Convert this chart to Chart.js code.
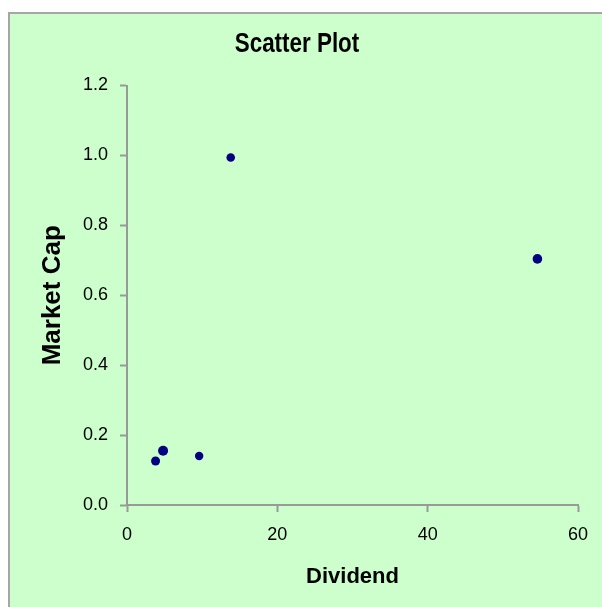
<!DOCTYPE html>
<html>
<head>
<meta charset="utf-8">
<script src="https://cdn.jsdelivr.net/npm/chart.js@4"></script>
<style>
  html, body { margin: 0; padding: 0; background: #ffffff; overflow: hidden; width: 602px; height: 607px; }
  #frame { position: absolute; left: 8px; top: 12px; width: 594px; height: 595px; box-sizing: border-box;
           background: #CCFFCC; border-left: 2px solid #a6a6a6; border-top: 2px solid #a6a6a6; }
  #wrap { position: absolute; left: 10px; top: 14px; width: 600px; height: 593px; }
</style>
</head>
<body>
<div id="frame"></div>
<div id="wrap"><canvas id="c" width="600" height="593"></canvas></div>
<script>
const chartTitle = 'Scatter Plot';
const xAxisTitle = 'Dividend';
const yAxisTitle = 'Market Cap';
const dividend = [3.8, 4.8, 9.6, 13.8, 54.6];
const marketCap = [0.126, 0.155, 0.140, 0.994, 0.704];
const xTickLabels = ['0', '20', '40', '60'];
const yTickLabels = ['0.0', '0.2', '0.4', '0.6', '0.8', '1.0', '1.2'];

const points = dividend.map((d, i) => ({ x: d, y: marketCap[i] }));
const FONT = "'Liberation Sans', Arial, sans-serif";

// Chart title drawn slightly condensed (the reference uses a narrow bold face)
const condensedTitle = {
  id: 'condensedTitle',
  afterDraw(chart) {
    const ctx = chart.ctx;
    ctx.save();
    ctx.font = "bold 27px " + FONT;
    ctx.fillStyle = '#000000';
    ctx.textAlign = 'center';
    ctx.textBaseline = 'middle';
    ctx.translate(chart.width / 2 - 13, 30);
    ctx.scale(0.83, 1.05);
    ctx.fillText(chartTitle, 0, 0);
    ctx.restore();
  }
};

new Chart(document.getElementById('c'), {
  type: 'scatter',
  data: {
    datasets: [{
      data: points,
      backgroundColor: '#000080',
      borderColor: '#000080',
      borderWidth: 0,
      pointRadius: [4.5, 5, 4.2, 4.3, 4.8],
      pointHoverRadius: 5
    }]
  },
  plugins: [condensedTitle],
  options: {
    responsive: false,
    animation: false,
    devicePixelRatio: 1,
    layout: { padding: { left: 0, right: 32, top: 71.5, bottom: 0 } },
    plugins: {
      legend: { display: false },
      tooltip: { enabled: false },
      title: { display: false }
    },
    scales: {
      x: {
        type: 'linear',
        min: 0, max: 60,
        afterFit: s => { s.height = 102; },
        border: { display: true, color: '#999999', width: 2 },
        grid: { display: true, drawOnChartArea: false, drawTicks: true, tickLength: 7, tickWidth: 2, tickColor: '#999999' },
        ticks: {
          stepSize: 20,
          padding: 12,
          color: '#000000',
          font: { family: FONT, size: 18 },
          callback: v => xTickLabels[Math.round(v / 20)]
        },
        title: {
          display: true,
          text: xAxisTitle,
          color: '#000000',
          font: { family: FONT, size: 22, weight: 'bold', lineHeight: 1.2 },
          padding: { top: 0, bottom: 17 }
        }
      },
      y: {
        type: 'linear',
        min: 0, max: 1.2,
        afterFit: s => { s.width = 117; },
        border: { display: true, color: '#999999', width: 2 },
        grid: { display: true, drawOnChartArea: false, drawTicks: true, tickLength: 7, tickWidth: 2, tickColor: '#999999' },
        ticks: {
          stepSize: 0.2,
          padding: 12,
          color: '#000000',
          font: { family: FONT, size: 18 },
          callback: v => yTickLabels[Math.round(v / 0.2)]
        },
        title: {
          display: true,
          text: yAxisTitle,
          color: '#000000',
          font: { family: FONT, size: 26, weight: 'bold', lineHeight: 1.2 },
          padding: { top: 27, bottom: 0 }
        }
      }
    }
  }
});
</script>
</body>
</html>
